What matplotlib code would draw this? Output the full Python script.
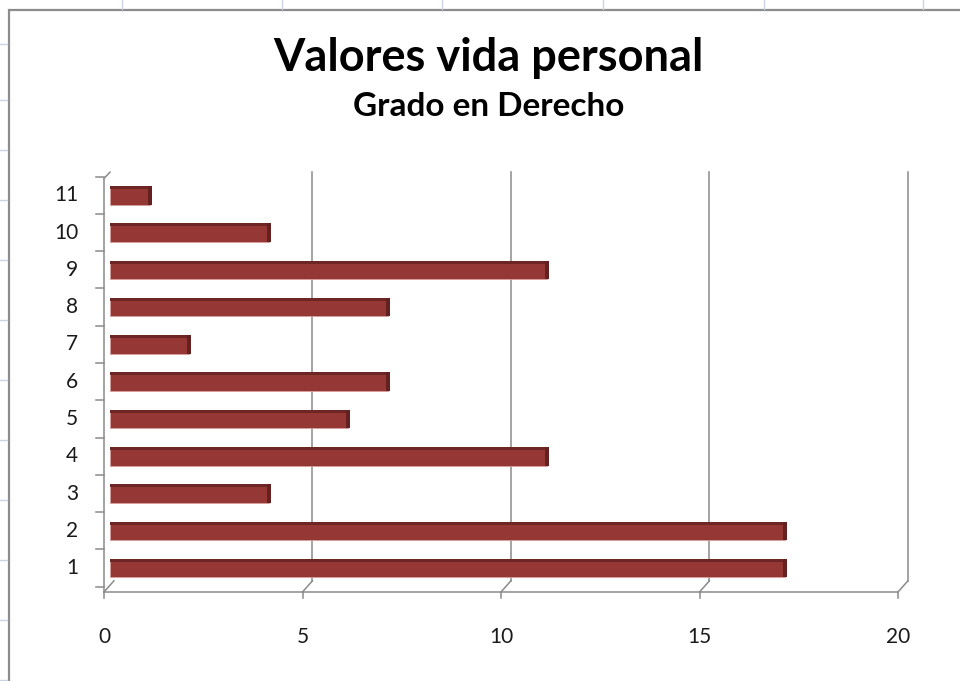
import matplotlib
matplotlib.use("Agg")
import matplotlib.pyplot as plt
from matplotlib.patches import Rectangle
from matplotlib.lines import Line2D

categories = ["1", "2", "3", "4", "5", "6", "7", "8", "9", "10", "11"]
values = [17, 17, 4, 11, 6, 7, 2, 7, 11, 4, 1]
xticks = [0, 5, 10, 15, 20]
title = "Valores vida personal"
subtitle = "Grado en Derecho"

W, H = 960, 681
fig = plt.figure(figsize=(W / 100, H / 100), dpi=100)
fig.patch.set_facecolor("white")

def fx(px):
    return px / W

def fy(py):
    return 1 - py / H

# spreadsheet gridlines outside chart
for x in [122, 282, 442, 603, 764, 923]:
    fig.add_artist(Line2D([fx(x), fx(x)], [fy(0), fy(9)], color="#c9d3e3", lw=1))
for y in [44, 100, 150, 200, 260, 320, 380, 440, 500, 560, 620, 680]:
    fig.add_artist(Line2D([fx(0), fx(7)], [fy(y), fy(y)], color="#c9d3e3", lw=1))
# chart frame
fig.add_artist(Rectangle((fx(9), fy(700)), fx(980), fy(10) - fy(700),
                         fill=False, edgecolor="#8c8c8c", lw=1.6))

FONT = ["Lato", "DejaVu Sans"]
fig.text(0.509, fy(58), title, ha="center", va="center", fontsize=32.5,
         fontweight="bold", family=FONT, color="black")
fig.text(0.509, fy(107), subtitle, ha="center", va="center", fontsize=24,
         fontweight="bold", family=FONT, color="black")

left_px, right_px, bot_px, top_px = 104, 910, 592, 180
ax = fig.add_axes([fx(left_px), fy(bot_px), fx(right_px - left_px), (bot_px - top_px) / H])
ax.set_xlim(0, (right_px - left_px) / 39.7)
ax.set_ylim(0.36, 11.41)
ax.axis("off")

ypos = list(range(1, len(categories) + 1))
dx, dy = 0.25, 0.3  # 3D depth offsets (data units)
floor_back = 0.36 + dy

# back wall gridlines with floor diagonals
for v in xticks[1:]:
    ax.plot([v + dx, v + dx], [floor_back, 11.62], color="#8a8a8a", lw=1.1, clip_on=False)
    ax.plot([v, v + dx], [0.36, floor_back], color="#8a8a8a", lw=1.1, clip_on=False)
# left axis / back left edge
ax.plot([0, 0], [0.36, 11.45], color="#8a8a8a", lw=1.1, clip_on=False)
ax.plot([0, dx * 0.6], [11.45, 11.62], color="#8a8a8a", lw=1.1, clip_on=False)
ax.plot([0, dx], [0.36, floor_back], color="#8a8a8a", lw=1.1, clip_on=False)
# front floor axis
ax.plot([0, xticks[-1]], [0.36, 0.36], color="#8a8a8a", lw=1.1, clip_on=False)
for v in xticks:
    ax.plot([v, v], [0.36, 0.2], color="#8a8a8a", lw=1.1, clip_on=False)
    ax.text(v, -0.85, str(v), ha="center", va="center", fontsize=15, family=FONT,
            color="#1a1a1a")
# y ticks at category boundaries
for b in [y - 0.5 for y in ypos] + [11.5]:
    ax.plot([-0.2, 0], [b, b], color="#8a8a8a", lw=1.1, clip_on=False)
for y, c in zip(ypos, categories):
    ax.text(-0.65, y, c, ha="right", va="center", fontsize=15, family=FONT,
            color="#1a1a1a")

# bars with pseudo-3D look
h = 0.5
bl = 0.15
ax.barh(ypos, values, height=h, left=bl, color="#953735", edgecolor="#d4a09e", lw=0.6,
        zorder=3)
ax.barh([y + h / 2 - 0.04 for y in ypos], values, height=0.08, left=bl,
        color="#6e2624", lw=0, zorder=4)
ax.barh(ypos, [0.1] * len(values), height=h, left=[v + bl - 0.05 for v in values],
        color="#642120", lw=0, zorder=4)

fig.savefig("out.png", dpi=100)
